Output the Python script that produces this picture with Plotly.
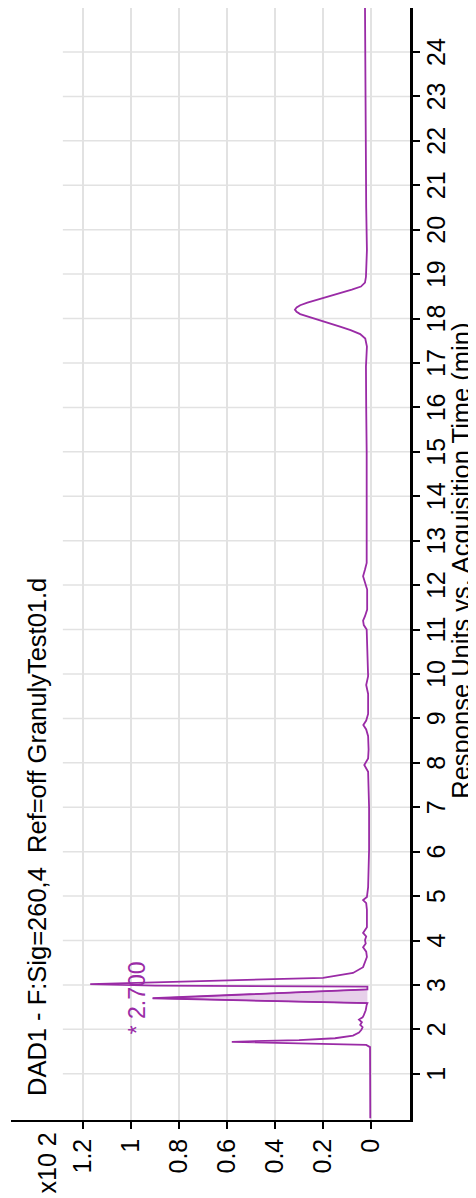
import plotly.graph_objects as go

# ---- data ----
time_min = [0.00, 1.60, 1.65, 1.68, 1.72, 1.76, 1.80, 1.86, 1.93, 1.99, 2.05, 2.10, 2.16, 2.22,
            2.27, 2.32, 2.43, 2.55, 2.59, 2.70, 2.90, 2.96, 2.985, 3.02, 3.05, 3.09, 3.16, 3.27,
            3.40, 3.63, 3.75, 3.85, 3.93, 4.01, 4.09, 4.17, 4.30, 4.69, 4.84, 4.91, 4.98, 5.20,
            6.04, 7.00, 7.60, 7.80, 7.95, 8.10, 8.30, 8.60, 8.75, 8.85, 8.95, 9.10, 9.55, 9.75,
            9.95, 10.60, 11.00, 11.10, 11.20, 11.30, 11.45, 11.90, 12.05, 12.20, 12.35, 12.50,
            13.00, 14.00, 15.00, 16.00, 16.92, 17.37, 17.55, 17.65, 17.74, 17.82, 17.90, 17.98,
            18.04, 18.10, 18.15, 18.20, 18.25, 18.30, 18.36, 18.42, 18.50, 18.58, 18.65, 18.72,
            18.81, 18.94, 19.54, 20.50, 22.00, 23.50, 25.00]
response_x100 = [0.003, 0.004, 0.020, 0.300, 0.580, 0.300, 0.150, 0.075, 0.050, 0.040, 0.035, 0.045,
                 0.038, 0.050, 0.035, 0.030, 0.022, 0.018, 0.015, 0.910, 0.015, 0.015, 0.900, 1.170,
                 0.950, 0.620, 0.200, 0.075, 0.033, 0.017, 0.020, 0.033, 0.022, 0.025, 0.020, 0.033,
                 0.017, 0.017, 0.020, 0.033, 0.017, 0.012, 0.008, 0.008, 0.010, 0.012, 0.028, 0.012,
                 0.010, 0.012, 0.020, 0.032, 0.020, 0.012, 0.012, 0.020, 0.012, 0.014, 0.018, 0.030,
                 0.033, 0.025, 0.016, 0.016, 0.025, 0.033, 0.025, 0.018, 0.018, 0.017, 0.018, 0.020,
                 0.021, 0.017, 0.024, 0.045, 0.085, 0.129, 0.175, 0.225, 0.262, 0.295, 0.310, 0.317,
                 0.310, 0.295, 0.265, 0.225, 0.175, 0.125, 0.080, 0.042, 0.025, 0.021, 0.017, 0.020,
                 0.022, 0.024, 0.025]

integrated_start = 2.59
integrated_end = 2.90
labelled_peak_time = 2.700

resp_ticks = [0, 0.2, 0.4, 0.6, 0.8, 1.0, 1.2]
resp_ticktext = ["0", "0.2", "0.4", "0.6", "0.8", "1", "1.2"]
time_ticks = list(range(1, 25))
time_ticktext = [str(t) for t in time_ticks]

title_text = "DAD1 - F:Sig=260,4&nbsp; Ref=off GranulyTest01.d"
axis_title = "Response Units vs. Acquisition Time (min)"
scale_text = "x10 2"

# ---- styling ----
PURPLE = "#9a2ba6"
FONT = "Liberation Sans, Arial, sans-serif"
FS = 25
FS_TITLE = 25.5
GRID = "#e2e2e2"

fig = go.Figure()

# filled integrated peak region
fill_t = [t for t in time_min if integrated_start <= t <= integrated_end]
fill_r = [r for t, r in zip(time_min, response_x100) if integrated_start <= t <= integrated_end]
fig.add_trace(go.Scatter(x=fill_r, y=fill_t, mode="lines", fill="toself",
                         fillcolor="rgba(185,120,195,0.35)",
                         line=dict(color=PURPLE, width=1.2), hoverinfo="skip", showlegend=False))

fig.add_trace(go.Scatter(x=response_x100, y=time_min, mode="lines",
                         line=dict(color=PURPLE, width=1.8), showlegend=False))

peak_resp = max(r for t, r in zip(time_min, response_x100) if abs(t - labelled_peak_time) < 0.01)

shapes = []
for t in time_ticks:
    shapes.append(dict(type="line", xref="paper", x0=0.13, x1=1, yref="y", y0=t, y1=t,
                       line=dict(color=GRID, width=1.5), layer="below"))

annotations = [
    dict(text=title_text, xref="paper", yref="paper", x=0.065, y=0.0197,
         xanchor="center", yanchor="bottom", textangle=-90, showarrow=False,
         font=dict(family=FONT, size=FS_TITLE, color="#000")),
    dict(text=scale_text, xref="paper", yref="paper", x=0.0902, y=-0.009,
         xanchor="center", yanchor="top", textangle=-90, showarrow=False,
         font=dict(family=FONT, size=FS, color="#000")),
    dict(text=axis_title, xref="paper", yref="paper", x=1.128, y=0.503,
         xanchor="center", yanchor="middle", textangle=-90, showarrow=False,
         font=dict(family=FONT, size=FS_TITLE, color="#000")),
    dict(text=f"* {labelled_peak_time:.3f}", xref="x", yref="y", x=peak_resp + 0.065,
         y=labelled_peak_time, xanchor="center", yanchor="middle", textangle=-90,
         showarrow=False, font=dict(family=FONT, size=23, color=PURPLE)),
]
# time-axis tick labels (rotated, reading bottom to top)
for t, lab in zip(time_ticks, time_ticktext):
    annotations.append(dict(text=lab, xref="paper", yref="y", x=1.065, y=t,
                            xanchor="center", yanchor="middle", textangle=-90,
                            showarrow=False, font=dict(family=FONT, size=FS, color="#000")))

fig.update_layout(
    width=468, height=1190,
    margin=dict(l=3, r=66, t=0, b=78, autoexpand=False),
    paper_bgcolor="white", plot_bgcolor="white",
    font=dict(family=FONT, size=FS, color="#000"),
    shapes=shapes, annotations=annotations,
    xaxis=dict(range=[1.5, -0.1625], tickvals=resp_ticks, ticktext=resp_ticktext,
               tickangle=-90, ticks="outside", ticklen=7, tickwidth=1.5, tickcolor="#000",
               showline=True, linecolor="#000", linewidth=1.5, mirror=True,
               showgrid=True, gridcolor=GRID, gridwidth=1.5, zeroline=False,
               automargin=False,
               tickfont=dict(family=FONT, size=FS, color="#000")),
    yaxis=dict(range=[-0.04, 24.99], side="right", tickvals=time_ticks,
               ticks="outside", ticklen=7, tickwidth=1.5, tickcolor="#000",
               showline=True, linecolor="#000", linewidth=2.5, mirror=False,
               showgrid=False, zeroline=False, automargin=False, showticklabels=False),
)

fig.write_html("out.html")
